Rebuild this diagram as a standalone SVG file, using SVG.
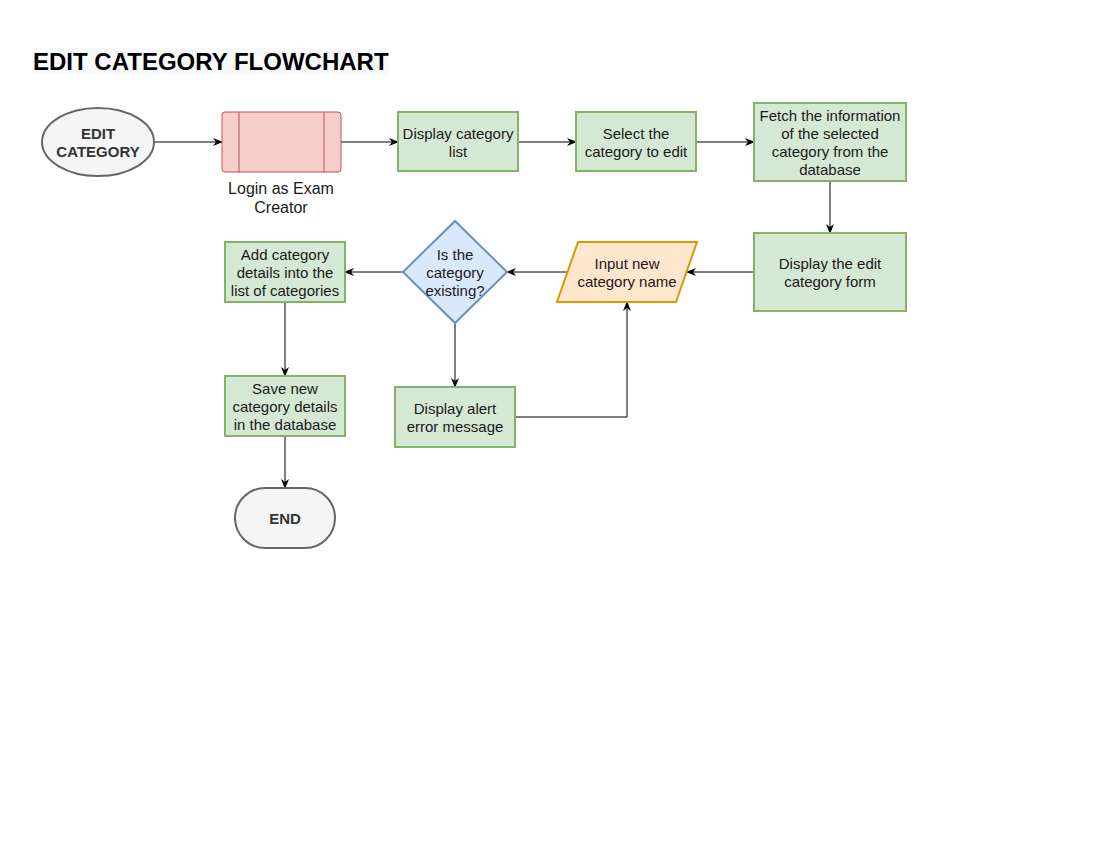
<svg xmlns="http://www.w3.org/2000/svg" width="1100" height="850" viewBox="0 0 1100 850">
<style>
text{font-family:"Liberation Sans",Arial,sans-serif;font-size:15px;fill:#1a1a1a;text-anchor:middle}
.b{font-weight:bold;fill:#333;font-size:15px}
.g{fill:#d5e8d4;stroke:#82b366;stroke-width:2}
.c{fill:none;stroke:#000;stroke-width:1}
</style>
<defs>
<marker id="a" viewBox="0 0 10 10" refX="9" refY="5" markerWidth="10" markerHeight="10" markerUnits="userSpaceOnUse" orient="auto">
<path d="M0,1 L10,5 L0,9 L3,5 Z" fill="#000"/>
</marker>
</defs>
<rect width="1100" height="850" fill="#fff"/>
<g id="title">
<rect x="33" y="48" width="356" height="26" fill="#f8f9fa"/>
<text x="33" y="70" style="font-size:24px;font-weight:bold;text-anchor:start;fill:#000">EDIT CATEGORY FLOWCHART</text>
</g>
<g id="connectors">
<path class="c" d="M154,142 H222" marker-end="url(#a)"/>
<path class="c" d="M341,142 H398" marker-end="url(#a)"/>
<path class="c" d="M518,142 H576" marker-end="url(#a)"/>
<path class="c" d="M696,142 H754" marker-end="url(#a)"/>
<path class="c" d="M830,181 V233" marker-end="url(#a)"/>
<path class="c" d="M754,272 H687" marker-end="url(#a)"/>
<path class="c" d="M567,272 H507" marker-end="url(#a)"/>
<path class="c" d="M403,272 H345" marker-end="url(#a)"/>
<path class="c" d="M455,323 V387" marker-end="url(#a)"/>
<path class="c" d="M285,302 V376" marker-end="url(#a)"/>
<path class="c" d="M285,436 V488" marker-end="url(#a)"/>
<path class="c" d="M515,417 H627 V302" marker-end="url(#a)"/>
</g>
<g id="start">
<ellipse cx="98" cy="142" rx="56" ry="34" fill="#f5f5f5" stroke="#666" stroke-width="2"/>
<text class="b" x="98" y="139">EDIT</text>
<text class="b" x="98" y="157">CATEGORY</text>
</g>
<g id="login">
<rect x="222" y="112" width="119" height="60" rx="3" fill="#f8cecc" stroke="#b85450" stroke-width="1"/>
<path d="M239,112 V172 M324,112 V172" stroke="#b85450" stroke-width="1"/>
<text x="281" y="194" style="font-size:16px">Login as Exam</text>
<text x="281" y="213" style="font-size:16px">Creator</text>
</g>
<g id="display-list">
<rect class="g" x="398" y="112" width="120" height="59"/>
<text x="458" y="139">Display category</text>
<text x="458" y="157">list</text>
</g>
<g id="select">
<rect class="g" x="576" y="112" width="120" height="59"/>
<text x="636" y="139">Select the</text>
<text x="636" y="157">category to edit</text>
</g>
<g id="fetch">
<rect class="g" x="754" y="103" width="152" height="78"/>
<text x="830" y="121">Fetch the information</text>
<text x="830" y="139">of the selected</text>
<text x="830" y="157">category from the</text>
<text x="830" y="175">database</text>
</g>
<g id="display-form">
<rect class="g" x="754" y="233" width="152" height="78"/>
<text x="830" y="269">Display the edit</text>
<text x="830" y="287">category form</text>
</g>
<g id="input">
<path d="M578,242 H697 L676,302 H557 Z" fill="#ffe6cc" stroke="#d79b00" stroke-width="2"/>
<text x="627" y="269">Input new</text>
<text x="627" y="287">category name</text>
</g>
<g id="decision">
<path d="M455,221 L507,272 L455,323 L403,272 Z" fill="#dae8fc" stroke="#6c8ebf" stroke-width="2"/>
<text x="455" y="260">Is the</text>
<text x="455" y="278">category</text>
<text x="455" y="296">existing?</text>
</g>
<g id="add">
<rect class="g" x="225" y="242" width="120" height="60"/>
<text x="285" y="260">Add category</text>
<text x="285" y="278">details into the</text>
<text x="285" y="296">list of categories</text>
</g>
<g id="alert">
<rect class="g" x="395" y="387" width="120" height="60"/>
<text x="455" y="414">Display alert</text>
<text x="455" y="432">error message</text>
</g>
<g id="save">
<rect class="g" x="225" y="376" width="120" height="60"/>
<text x="285" y="394">Save new</text>
<text x="285" y="412">category details</text>
<text x="285" y="430">in the database</text>
</g>
<g id="end">
<rect x="235" y="488" width="100" height="60" rx="30" fill="#f5f5f5" stroke="#666" stroke-width="2"/>
<text class="b" x="285" y="524">END</text>
</g>
</svg>
